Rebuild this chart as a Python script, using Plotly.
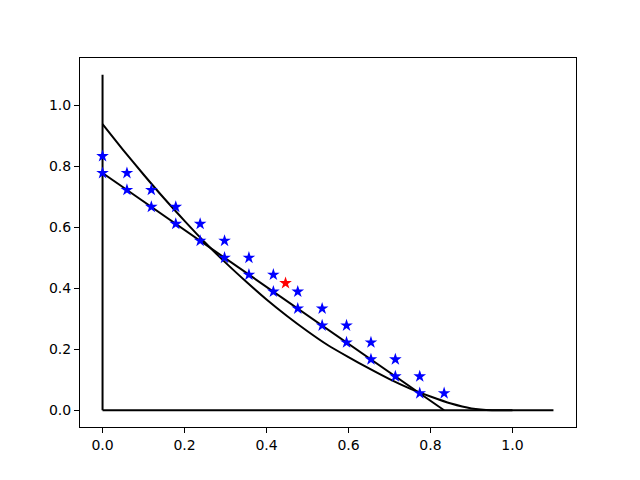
import plotly.graph_objects as go

# Axis lines (L shape)
axis_v_x = [0.0, 0.0]
axis_v_y = [0.0, 1.1]
axis_h_x = [0.0, 1.1]
axis_h_y = [0.0, 0.0]

# Straight line
line_x = [0.0, 0.8333]
line_y = [0.7778, 0.0]

# Convex curve
curve_x = [0.00, 0.05, 0.10, 0.15, 0.20, 0.25, 0.30, 0.35, 0.40, 0.45, 0.50,
           0.55, 0.60, 0.65, 0.70, 0.75, 0.80, 0.85, 0.90, 0.95, 1.00]
curve_y = [0.938, 0.854, 0.773, 0.695, 0.621, 0.550, 0.484, 0.422, 0.363, 0.309, 0.259,
           0.213, 0.174, 0.137, 0.102, 0.071, 0.045, 0.022, 0.006, 0.0, 0.0]

# Blue stars (upper row and lower row)
upper_x = [0.0, 0.0595, 0.119, 0.1786, 0.2381, 0.2976, 0.3571, 0.4167, 0.4762,
           0.5357, 0.5952, 0.6548, 0.7143, 0.7738, 0.8333]
upper_y = [0.8333, 0.7778, 0.7222, 0.6667, 0.6111, 0.5556, 0.5, 0.4444, 0.3889,
           0.3333, 0.2778, 0.2222, 0.1667, 0.1111, 0.0556]
lower_x = [0.0, 0.0595, 0.119, 0.1786, 0.2381, 0.2976, 0.3571, 0.4167, 0.4762,
           0.5357, 0.5952, 0.6548, 0.7143, 0.7738]
lower_y = [0.7778, 0.7222, 0.6667, 0.6111, 0.5556, 0.5, 0.4444, 0.3889, 0.3333,
           0.2778, 0.2222, 0.1667, 0.1111, 0.0556]

# Red star
red_x = [0.4464]
red_y = [0.4167]

x_ticks = [0.0, 0.2, 0.4, 0.6, 0.8, 1.0]
x_tick_labels = ["0.0", "0.2", "0.4", "0.6", "0.8", "1.0"]
y_ticks = [0.0, 0.2, 0.4, 0.6, 0.8, 1.0]
y_tick_labels = ["0.0", "0.2", "0.4", "0.6", "0.8", "1.0"]

fig = go.Figure()
black = dict(color="black", width=2)
fig.add_trace(go.Scatter(x=axis_v_x, y=axis_v_y, mode="lines", line=black))
fig.add_trace(go.Scatter(x=axis_h_x, y=axis_h_y, mode="lines", line=black))
fig.add_trace(go.Scatter(x=line_x, y=line_y, mode="lines", line=black))
fig.add_trace(go.Scatter(x=curve_x, y=curve_y, mode="lines",
                         line=dict(color="black", width=2, shape="spline", smoothing=0.6)))
star = dict(symbol="star", size=9.5, color="#0000ff", line=dict(width=0))
fig.add_trace(go.Scatter(x=upper_x, y=upper_y, mode="markers", marker=star))
fig.add_trace(go.Scatter(x=lower_x, y=lower_y, mode="markers", marker=star))
fig.add_trace(go.Scatter(x=red_x, y=red_y, mode="markers",
                         marker=dict(symbol="star", size=9.5, color="#ff0000", line=dict(width=0))))

axis_common = dict(
    showgrid=False, zeroline=False, showline=True, linecolor="black", linewidth=1,
    mirror=True, ticks="outside", ticklen=5, tickwidth=1, tickcolor="black",
    tickfont=dict(family="DejaVu Sans", size=14, color="black"),
)
fig.update_xaxes(range=[-0.055, 1.155], tickvals=x_ticks, ticktext=x_tick_labels, **axis_common)
fig.update_yaxes(range=[-0.055, 1.155], tickvals=y_ticks, ticktext=y_tick_labels, **axis_common)

# page body has an 8px default margin, so the figure is shifted; compensate
fig.update_layout(
    width=632, height=472,
    margin=dict(l=72, r=64, t=50, b=53),
    paper_bgcolor="white", plot_bgcolor="white",
    showlegend=False,
    font=dict(family="DejaVu Sans"),
)

fig.write_html("out.html")
